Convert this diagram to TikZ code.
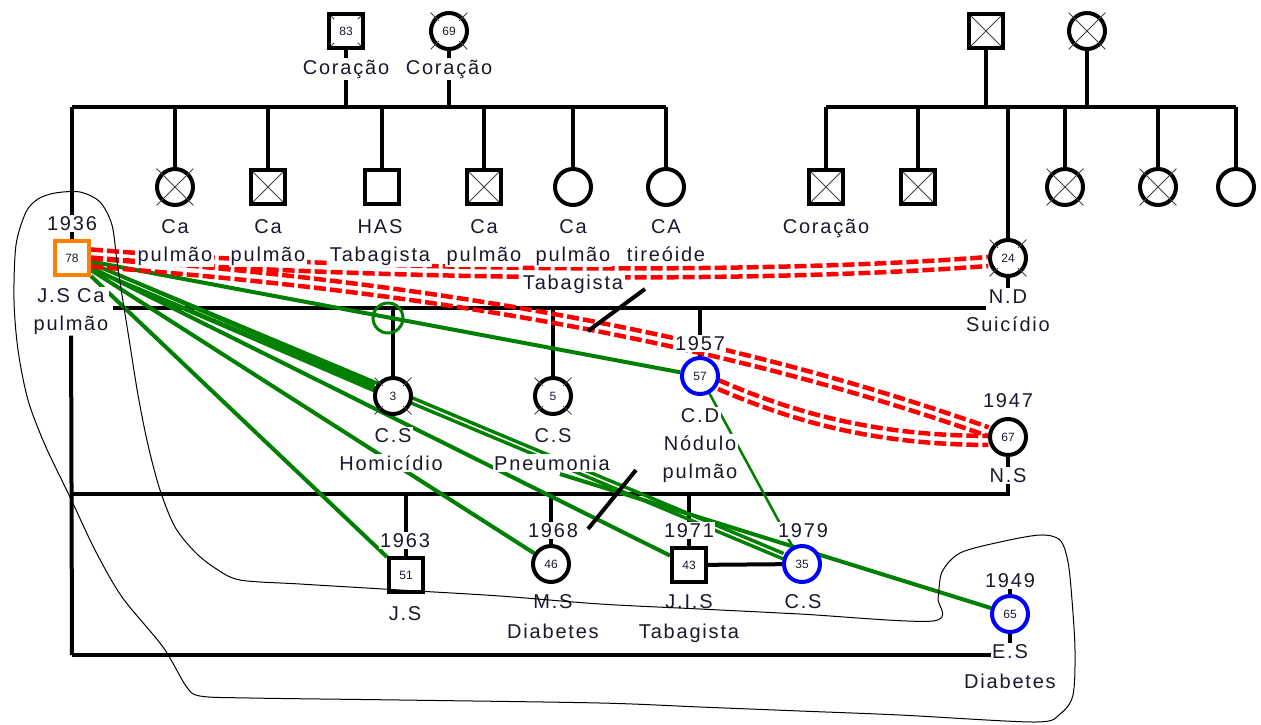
\documentclass[tikz,border=0pt]{standalone}
\usepackage{fontspec}
\setmainfont{Liberation Sans}
\newfontfamily\lblfont{Liberation Sans}[LetterSpace=9]
\newfontfamily\numfont{Liberation Sans}
\usetikzlibrary{calc}
\pgfdeclarelayer{links}
\pgfdeclarelayer{outline}
\pgfsetlayers{links,main,outline}
\definecolor{relgreen}{RGB}{0,128,0}
\definecolor{cutred}{RGB}{255,0,0}
\definecolor{indexorange}{RGB}{255,128,0}
\definecolor{partnerblue}{RGB}{0,0,255}
\definecolor{ink}{RGB}{25,25,45}
\newcommand\txtlabel[4]{\node[lbl] (#1) at (#2,#3) {#4};}

\begin{document}
\begin{tikzpicture}[x=1pt,y=-1pt,
  kin/.style={line width=4pt, black},
  close/.style={draw=relgreen, line width=4pt},
  cut/.style={draw=cutred, line width=4.5pt, dash pattern=on 12pt off 4pt},
  person/.style={draw, line width=4pt, fill=white, inner sep=0pt, text=ink,
                 font={\numfont\fontsize{12}{12}\selectfont}},
  male/.style={person, rectangle, minimum size=34pt},
  female/.style={person, circle, minimum size=36pt},
  crossed/.style={path picture={\draw[line width=1pt, black!75]
      (path picture bounding box.north west) -- (path picture bounding box.south east)
      (path picture bounding box.north east) -- (path picture bounding box.south west);}},
  xmark/.style={line width=1pt, black!75},
  lbl/.style={anchor=base, fill=white, inner sep=1.5pt, text=ink,
              font={\lblfont\fontsize{20}{24}\selectfont}},
  outline/.style={line width=1pt, black},
]
\useasboundingbox (0,0) rectangle (1261,724);

% ---------- fixed points of the pedigree lines ----------
\coordinate (sibL) at (72,107);
\coordinate (sibLend) at (666,107);
\coordinate (sibRa) at (826,107);
\coordinate (sibRb) at (1236,107);
\coordinate (m1L) at (113,308);
\coordinate (m1R) at (986,308);
\coordinate (m2L) at (72,494);
\coordinate (m2R) at (1008,494);
\coordinate (m3L) at (72,655);
\coordinate (hop) at (388,318);
\coordinate (g7s) at (560,474);
\coordinate (sl1a) at (588,331);
\coordinate (sl1b) at (645,289);
\coordinate (sl2a) at (588,529);
\coordinate (sl2b) at (636,470);

% ---------- persons ----------
\node[male] (GF) at (346,31) {83};
\node[female] (GM) at (449,31) {69};
\node[male, crossed] (RGF) at (986,31) {};
\node[female] (RGM) at (1087,31) {};

\node[female] (s1) at (175,187) {};
\node[male, crossed] (s2) at (268,187) {};
\node[male] (s3) at (382,187) {};
\node[male, crossed] (s4) at (484,187) {};
\node[female] (s5) at (573,187) {};
\node[female] (s6) at (666,187) {};

\node[male, crossed] (r1) at (826,187) {};
\node[male, crossed] (r2) at (918,187) {};
\node[female] (r4) at (1065,187) {};
\node[female] (r5) at (1158,187) {};
\node[female] (r6) at (1236,187) {};

\node[male, draw=indexorange] (JS) at (72,258) {78};
\node[female] (ND) at (1008,258) {24};
\node[female] (CS1) at (393,396) {3};
\node[female] (CS2) at (553,396) {5};
\node[female, draw=partnerblue] (CD) at (700,376) {57};
\node[female] (NS) at (1008,437) {67};
\node[male] (JS2) at (406,575) {51};
\node[female] (MS) at (551,564) {46};
\node[male] (JIS) at (689,565) {43};
\node[female, draw=partnerblue] (CS3) at (802,564) {35};
\node[female, draw=partnerblue] (ES) at (1010,614) {65};

% deceased marks
\foreach \n in {s1,r4,r5,RGM} {
  \draw[xmark] ($(\n.center)!1.3!(\n.45)$) -- ($(\n.center)!1.3!(\n.-135)$)
               ($(\n.center)!1.3!(\n.135)$) -- ($(\n.center)!1.3!(\n.-45)$);
}
\foreach \n in {GM,CS1,CS2,ND} {
  \foreach \a in {45,135,-45,-135}
    \draw[xmark] ($(\n.center)!0.72!(\n.\a)$) -- ($(\n.center)!1.3!(\n.\a)$);
}
\foreach \a in {north west,north east,south west,south east}
  \draw[xmark] ($(GF.center)!0.62!(GF.\a)$) -- ($(GF.center)!0.78!(GF.\a)$);

% ---------- texts ----------
\txtlabel{tGF}{346}{74}{Coração}
\txtlabel{tGM}{449}{74}{Coração}
\txtlabel{ta1}{175}{233}{Ca}
\txtlabel{tb1}{175}{261}{pulmão}
\txtlabel{ta2}{268}{233}{Ca}
\txtlabel{tb2}{268}{261}{pulmão}
\txtlabel{ta3}{380}{233}{HAS}
\txtlabel{tb3}{380}{261}{Tabagista}
\txtlabel{ta4}{484}{233}{Ca}
\txtlabel{tb4}{484}{261}{pulmão}
\txtlabel{ta5}{573}{233}{Ca}
\txtlabel{tb5}{573}{261}{pulmão}
\txtlabel{tc5}{573}{289}{Tabagista}
\txtlabel{ta6}{666}{233}{CA}
\txtlabel{tb6}{666}{261}{tireóide}
\txtlabel{tr1}{826}{233}{Coração}
\txtlabel{tJSy}{72}{230}{1936}
\node[lbl, anchor=north, align=center, inner sep=1pt,
      font={\lblfont\fontsize{20}{28}\selectfont}] (tJS) at (71,287) {J.S Ca\\pulmão};
\txtlabel{tNDa}{1008}{303}{N.D}
\txtlabel{tNDb}{1008}{331}{Suicídio}
\txtlabel{tCDy}{700}{350}{1957}
\txtlabel{tCS1a}{393}{442}{C.S}
\txtlabel{tCS1b}{391}{470}{Homicídio}
\txtlabel{tCS2a}{553}{442}{C.S}
\txtlabel{tCS2b}{552}{470}{Pneumonia}
\txtlabel{tCDa}{700}{422}{C.D}
\txtlabel{tCDb}{700}{450}{Nódulo}
\txtlabel{tCDc}{700}{478}{pulmão}
\txtlabel{tNSy}{1008}{407}{1947}
\txtlabel{tNS}{1008}{482}{N.S}
\txtlabel{tJS2y}{405}{547}{1963}
\txtlabel{tMSy}{553}{537}{1968}
\txtlabel{tJISy}{689}{537}{1971}
\txtlabel{tCS3y}{803}{537}{1979}
\txtlabel{tJS2}{405}{620}{J.S}
\txtlabel{tMSa}{553}{608}{M.S}
\txtlabel{tMSb}{553}{638}{Diabetes}
\txtlabel{tJISa}{689}{608}{J.I.S}
\txtlabel{tJISb}{689}{638}{Tabagista}
\txtlabel{tCS3}{803}{608}{C.S}
\txtlabel{tESy}{1010}{587}{1949}
\txtlabel{tESa}{1010}{658}{E.S}
\txtlabel{tESb}{1010}{688}{Diabetes}

% ---------- lines behind the symbols ----------
\begin{pgfonlayer}{links}
\fill[white] (0,0) rectangle (1261,724);
% descent lines
\draw[kin] (sibL) -- (sibLend);
\draw[kin] (GF) -- (GF |- sibL);
\draw[kin] (GM) -- (GM |- sibL);
\foreach \n in {s1,s2,s3,s4,s5,s6} \draw[kin] (\n) -- (\n |- sibL);
\draw[kin] (sibL) -- (JS);
\draw[kin] (tJS) -- (m3L);
\draw[kin] (sibRa) -- (sibRb);
\draw[kin] (RGF) -- (RGF |- sibRa);
\draw[kin] (RGM) -- (RGM |- sibRa);
\foreach \n in {r1,r2,ND,r4,r5,r6} \draw[kin] (\n) -- (\n |- sibRa);
\draw[kin] (ND) -- (tNDa);
% unions and their children
\draw[kin] (m1L) -- (m1R);
\foreach \n in {CS1,CS2,CD} \draw[kin] (\n) -- (\n |- m1L);
\draw[kin] (m2L) -- (m2R) -- (NS);
\foreach \n in {JS2,MS,JIS} \draw[kin] (\n) -- (\n |- m2L);
\draw[kin] (m3L) -- (ES |- m3L) -- (ES);
\draw[kin] (ES) -- (tESy);
\draw[kin] (JIS) -- (CS3);
% close relationships
\draw[close] (JS) -- (CD);
\draw[close, line width=3pt] (hop) circle[radius=15];
\foreach \s in {-2.8,2.8} {
  \draw[close, line width=3.4pt, transform canvas={yshift=\s pt}] (JS) -- (CS1);
  \draw[close, line width=3.4pt, transform canvas={yshift=\s pt}] (JS) -- (CS3);
}
\draw[close] (JS) -- (JS2);
\draw[close] (JS) -- (MS);
\draw[close] (JS) -- (JIS);
\draw[close] (g7s) -- (ES);
\draw[close, line width=2.5pt] (CD) -- (CS3);
% cut-off relationships
\foreach \s in {-4.5,4.5} {
  \draw[cut, transform canvas={yshift=\s pt}] (JS.12) .. controls (350,275) and (750,280) .. (ND.190);
  \draw[cut, transform canvas={yshift=\s pt}] (JS.-12) .. controls (400,285) and (700,330) .. (NS.165);
  \draw[cut, transform canvas={yshift=\s pt}] (CD.-25) .. controls (800,420) and (880,440) .. (NS.190);
}
% separations
\draw[kin] (sl1a) -- (sl1b);
\draw[kin] (sl2a) -- (sl2b);
\end{pgfonlayer}

% ---------- household boundary ----------
\begin{pgfonlayer}{outline}
\draw[outline] plot[smooth cycle, tension=0.5] coordinates {
  (55,193) (80,192) (100,202) (112,225) (117,262) (122,295) (130,345) (138,395)
  (148,445) (160,490) (175,527) (195,552) (215,568) (240,580) (300,584) (400,590)
  (500,596) (600,604) (700,609) (800,614) (933,621) (938,598) (942,572) (960,553)
  (1000,542) (1040,535) (1060,540) (1068,562) (1072,600) (1075,650) (1073,695)
  (1060,714) (1035,722) (900,715) (800,711) (700,707) (600,703) (400,700)
  (250,698) (200,696) (186,686) (163,647) (122,597) (95,550) (70,497) (45,445)
  (28,400) (18,350) (14,300) (16,245) (26,212) (38,199)};
\end{pgfonlayer}
\end{tikzpicture}
\end{document}
